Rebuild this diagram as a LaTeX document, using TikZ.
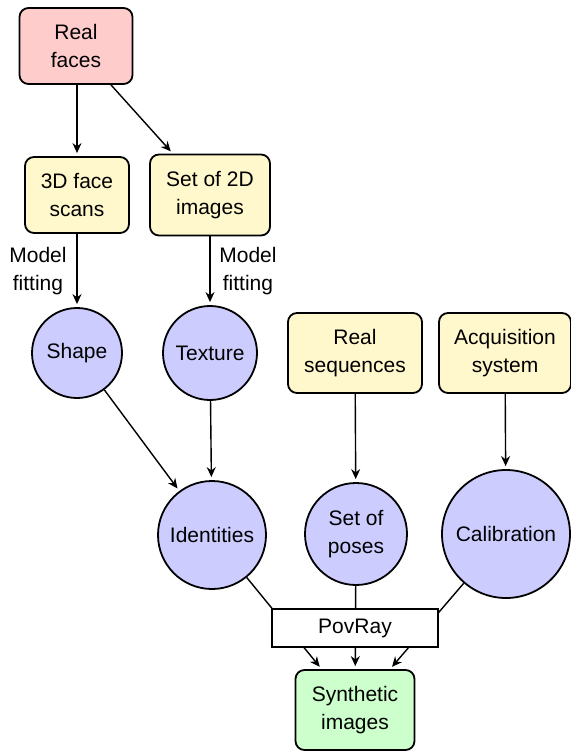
\documentclass[tikz,border=0pt]{standalone}
\usepackage{fontspec}
\setmainfont{Liberation Sans}
\usetikzlibrary{arrows.meta}
\definecolor{pinkfill}{HTML}{FFCCCC}
\definecolor{yelfill}{HTML}{FFF8CC}
\definecolor{bluefill}{HTML}{CCCCFF}
\definecolor{greenfill}{HTML}{CCFFCC}
\begin{document}
\begin{tikzpicture}[x=0.5pt,y=-0.5pt,
  every node/.style={font=\fontsize{10.5}{14}\selectfont, align=center, inner sep=1pt},
  rbox/.style={draw, line width=0.9pt, rounded corners=4.5pt, fill=yelfill},
  circ/.style={draw, line width=0.9pt, circle, fill=bluefill},
  conn/.style={line width=0.7pt, -{Stealth[length=5pt,width=4.5pt]}, shorten >=1.5pt},
  lab/.style={font=\fontsize{10.5}{14}\selectfont}]
\useasboundingbox (0,0) rectangle (571,754);
\node[rbox, fill=pinkfill, minimum width=56.5pt, minimum height=38pt] (real) at (76,46) {Real\\faces};
\node[rbox, minimum width=52pt, minimum height=38pt] (scans) at (77,195) {3D face\\scans};
\node[rbox, minimum width=60pt, minimum height=40.5pt] (img2d) at (210,195) {Set of 2D\\images};
\node[circ, minimum size=45pt] (shape) at (77,353) {Shape};
\node[circ, minimum size=47pt] (texture) at (210,353) {Texture};
\node[rbox, minimum width=67pt, minimum height=40pt] (seq) at (355,353) {Real\\sequences};
\node[rbox, minimum width=66pt, minimum height=40pt] (acq) at (505,353) {Acquisition\\system};
\node[circ, minimum size=54pt] (ident) at (212,535) {Identities};
\node[circ, minimum size=51pt] (poses) at (356,534) {Set of\\poses};
\node[circ, minimum size=64pt] (calib) at (506,534) {Calibration};
\node[rbox, fill=greenfill, minimum width=59.5pt, minimum height=40pt] (synth) at (355,710) {Synthetic\\images};
\node[lab] (mf1) at (38,271) {Model\\fitting};
\node[lab] (mf2) at (248,271) {Model\\fitting};

\draw[conn] (real.south -| scans.north) -- (scans);
\draw[conn] (real) -- (img2d);
\draw[conn] (scans) -- (shape);
\draw[conn] (img2d) -- (texture);
\draw[conn] (shape) -- (ident);
\draw[conn] (texture) -- (ident);
\draw[conn] (seq) -- (poses);
\draw[conn] (acq) -- (calib);
\draw[conn] (ident) -- (synth);
\draw[conn] (poses) -- (synth);
\draw[conn] (calib) -- (synth);
\node[draw, line width=0.7pt, fill=white, minimum width=83pt, minimum height=19pt] (povray) at (355,628) {PovRay};
\end{tikzpicture}
\end{document}
